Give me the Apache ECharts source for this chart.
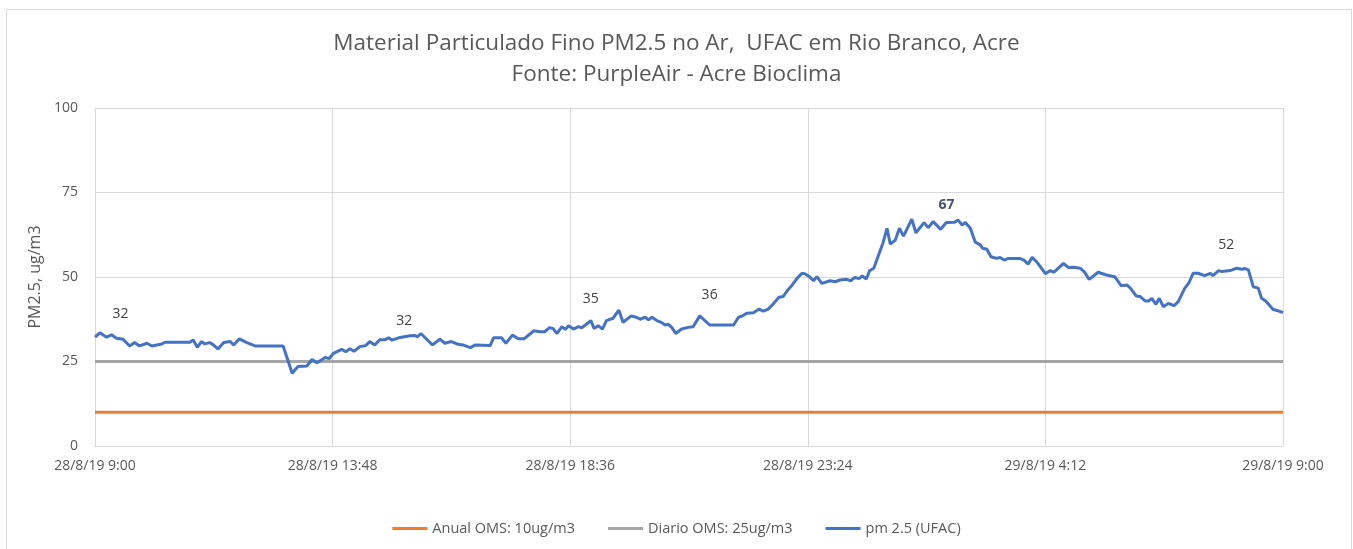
<!DOCTYPE html>
<html>
<head>
<meta charset="utf-8">
<script src="https://cdn.jsdelivr.net/npm/echarts@6/dist/echarts.min.js"></script>
<style>
  html, body { margin: 0; padding: 0; background: #fff; }
  #chart { width: 1353px; height: 549px; }
</style>
</head>
<body>
<div id="chart"></div>
<script>
// minutes since 28/8/19 9:00
const pmTimes = [
  0, 6, 14, 20, 26, 34, 42, 48, 54, 63, 69, 81, 85, 115, 119, 124, 129, 133, 139, 143,
  149, 156, 164, 168, 175, 184, 194, 228, 239, 246, 257, 263, 269, 279, 284, 289,
  299, 304, 309, 314, 321, 328, 333, 339, 345, 351, 356, 360, 368, 382, 388, 391, 395,
  402, 409, 418, 424, 432, 440, 446, 455, 461, 479, 483, 493, 498, 506, 513, 520, 532,
  539, 545, 551, 555, 560, 566, 570, 574,
  580, 586, 590, 596, 601, 605, 610, 615, 620, 628, 635, 640, 650, 657, 661, 667, 671,
  675, 681, 687, 691, 695, 699, 704, 711, 719, 725, 733, 745, 774, 780, 785, 790, 798,
  805, 810, 816, 822, 829, 834, 839, 844, 851, 857,
  861, 866, 871, 875, 881, 891, 897, 903, 911, 916, 921, 926, 930, 935, 939, 944, 949,
  955, 960, 964, 970, 975, 980, 990, 995, 1005, 1010, 1016, 1025, 1032, 1042, 1046, 1051,
  1055, 1061, 1067, 1073, 1076, 1081, 1086, 1093, 1097, 1102, 1107, 1121, 1126, 1131,
  1136, 1141, 1146, 1152,
  1158, 1162, 1174, 1180, 1186, 1194, 1199, 1205, 1216, 1226, 1236, 1244, 1251, 1255,
  1262, 1267, 1273, 1277, 1281, 1286, 1290, 1295, 1301, 1308, 1313, 1321, 1326, 1331,
  1337, 1345, 1352, 1355, 1362, 1366, 1376, 1384, 1390, 1394, 1398, 1404, 1410, 1414,
  1419, 1428, 1434, 1440
];
const pmValues = [
  32.2, 33.5, 32.2, 32.9, 31.9, 31.6, 29.6, 30.6, 29.6, 30.4, 29.6, 30.2, 30.7, 30.7, 31.4, 29.2, 30.9, 30.2, 30.6, 30.0,
  28.7, 30.6, 30.9, 29.9, 31.7, 30.6, 29.6, 29.6, 21.5, 23.5, 23.7, 25.6, 24.6, 26.2, 25.9, 27.4,
  28.6, 27.9, 28.8, 28.0, 29.4, 29.7, 30.9, 29.9, 31.4, 31.4, 32.0, 31.3, 32.0, 32.6, 32.7, 32.3, 33.3,
  31.6, 29.9, 31.6, 30.4, 30.9, 30.1, 29.9, 29.1, 29.9, 29.7, 32.0, 32.0, 30.4, 32.8, 31.7, 31.7, 34.1,
  33.8, 33.8, 35.0, 34.8, 33.3, 35.3, 34.5, 35.6,
  34.6, 35.3, 35.0, 36.1, 37.1, 34.8, 35.6, 34.6, 37.1, 37.8, 40.2, 36.6, 38.5, 38.0, 37.5, 38.1, 37.3,
  38.1, 37.1, 36.5, 35.8, 36.0, 35.1, 33.3, 34.6, 35.1, 35.3, 38.5, 35.8, 35.8, 38.1, 38.5, 39.3, 39.4,
  40.5, 39.9, 40.5, 42.0, 44.0, 44.2, 45.9, 47.3, 49.6, 51.1,
  50.9, 50.1, 48.9, 50.1, 48.1, 48.9, 48.6, 49.1, 49.3, 48.9, 49.9, 49.5, 50.3, 49.4, 51.9, 52.6, 56.0,
  60.0, 64.4, 59.7, 60.9, 64.4, 62.1, 67.1, 63.1, 66.1, 64.6, 66.4, 64.1, 66.1, 66.2, 66.9, 65.4,
  66.1, 64.4, 60.3, 59.5, 58.5, 58.2, 56.0, 55.5, 55.8, 55.0, 55.5, 55.5, 55.0, 53.8,
  55.8, 54.6, 53.0, 51.0,
  51.9, 51.4, 54.0, 52.8, 52.9, 52.6, 51.6, 49.3, 51.4, 50.6, 50.1, 47.4, 47.6, 46.7,
  44.4, 44.2, 42.9, 42.9, 43.7, 41.9, 43.7, 41.2, 42.2, 41.5, 42.7, 46.7, 48.3, 51.1,
  51.1, 50.4, 51.1, 50.4, 51.9, 51.6, 51.9, 52.6, 52.3, 52.5, 52.1, 47.1, 46.7, 43.7,
  42.9, 40.4, 40.0, 39.5
];

// data labels shown on the pm line
const labelTimes = [26, 382, 601, 745, 1032, 1376];
const labelTexts = ['32', '32', '35', '36', '67', '52'];

const anualOMS = 10;
const diarioOMS = 25;
const xTickLabels = ['28/8/19 9:00', '28/8/19 13:48', '28/8/19 18:36', '28/8/19 23:24', '29/8/19 4:12', '29/8/19 9:00'];

const font = '"Open Sans", sans-serif';
const textColor = '#595959';
const gridColor = '#D9D9D9';

// label nudges so they sit like the excel ones
const labelOffsets = [[4, -12], [-6, -3], [0, -10], [0, -18], [0, -6], [-4, -14]];

const markData = labelTimes.map((t, k) => ({
  coord: [t, pmValues[pmTimes.indexOf(t)]],
  label: {
    formatter: labelTexts[k],
    offset: labelOffsets[k],
    color: k === 4 ? '#44546A' : '#404040',
    fontWeight: k === 4 ? 'bold' : 'normal'
  }
}));

const chart = echarts.init(document.getElementById('chart'));
chart.setOption({
  animation: false,
  graphic: [{
    type: 'rect',
    shape: { x: 6.5, y: 9.5, width: 1345, height: 600 },
    style: { fill: 'none', stroke: gridColor, lineWidth: 1 },
    silent: true
  }],
  title: {
    text: 'Material Particulado Fino PM2.5 no Ar,  UFAC em Rio Branco, Acre\nFonte: PurpleAir - Acre Bioclima',
    left: 'center',
    top: 23,
    textStyle: { color: textColor, fontSize: 22.5, fontWeight: 'normal', fontFamily: font, lineHeight: 31 }
  },
  legend: {
    bottom: 8,
    left: 'center',
    itemWidth: 35,
    itemHeight: 3,
    itemGap: 33,
    icon: 'rect',
    textStyle: { color: textColor, fontSize: 14.5, fontFamily: font },
    data: ['Anual OMS: 10ug/m3', 'Diario OMS: 25ug/m3', 'pm 2.5 (UFAC)']
  },
  grid: { left: 95, right: 70, top: 108, bottom: 103 },
  xAxis: {
    type: 'value',
    min: 0,
    max: 1440,
    interval: 288,
    axisLine: { show: true, lineStyle: { color: gridColor, width: 1 } },
    axisTick: { show: false },
    splitLine: { show: true, lineStyle: { color: gridColor, width: 1 } },
    axisLabel: {
      color: textColor,
      fontSize: 14,
      fontFamily: font,
      margin: 13,
      formatter: v => xTickLabels[Math.round(v / 288)]
    }
  },
  yAxis: {
    type: 'value',
    min: 0,
    max: 100,
    interval: 25,
    name: 'PM2.5, ug/m3',
    nameLocation: 'middle',
    nameGap: 48,
    nameTextStyle: { color: textColor, fontSize: 16, fontFamily: font },
    axisLine: { show: true, lineStyle: { color: gridColor, width: 1 } },
    axisTick: { show: false },
    splitLine: { show: true, lineStyle: { color: gridColor, width: 1 } },
    axisLabel: { color: textColor, fontSize: 14, fontFamily: font, margin: 17 }
  },
  series: [
    {
      name: 'Anual OMS: 10ug/m3',
      type: 'line',
      symbol: 'none',
      color: '#ED7D31',
      lineStyle: { width: 3 },
      data: [[0, anualOMS], [1440, anualOMS]]
    },
    {
      name: 'Diario OMS: 25ug/m3',
      type: 'line',
      symbol: 'none',
      color: '#A5A5A5',
      lineStyle: { width: 3 },
      data: [[0, diarioOMS], [1440, diarioOMS]]
    },
    {
      name: 'pm 2.5 (UFAC)',
      type: 'line',
      symbol: 'none',
      color: '#4472C4',
      lineStyle: { width: 3 },
      data: pmTimes.map((t, i) => [t, pmValues[i]]),
      markPoint: {
        symbol: 'circle',
        symbolSize: 0,
        silent: true,
        label: {
          show: true,
          position: 'top',
          distance: 5,
          fontSize: 14,
          fontFamily: font
        },
        data: markData
      }
    }
  ]
});
</script>
</body>
</html>
